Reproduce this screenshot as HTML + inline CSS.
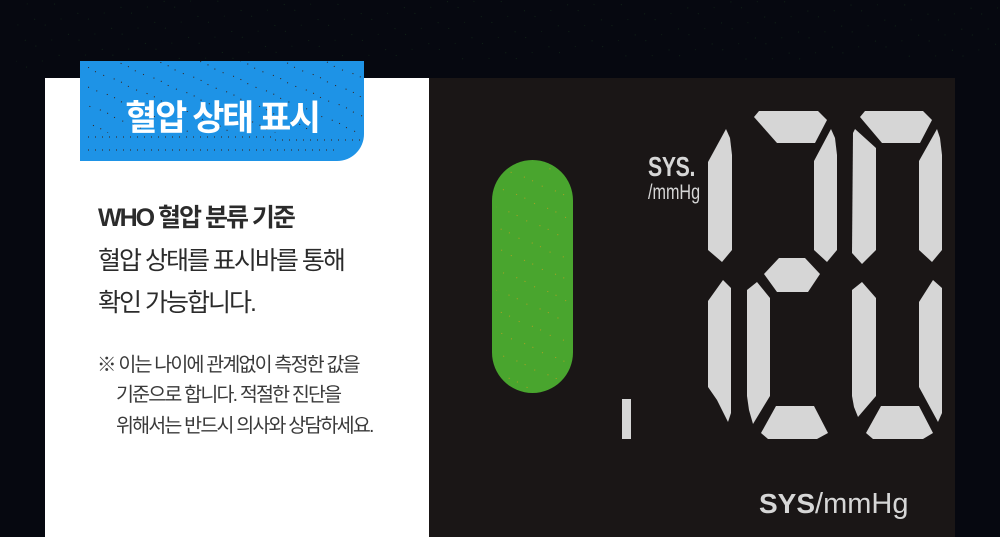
<!DOCTYPE html>
<html lang="ko"><head><meta charset="utf-8"><style>
html,body{margin:0;padding:0}
body{width:1000px;height:537px;overflow:hidden;background:#060810;position:relative;font-family:"Liberation Sans","Noto Sans CJK KR",sans-serif}
div{position:absolute;white-space:nowrap}
.w{left:45px;top:78px;width:384px;height:459px;background:#fff}
.d{left:429px;top:78px;width:526px;height:459px;background:#1a1616}
.b{left:80px;top:61px;width:284px;height:100px;background:#1e93e6;border-bottom-right-radius:27px}
.g{left:492px;top:160px;width:81px;height:233px;border-radius:40.5px;background:#49a52e}
.t{color:#2b2b2b}
.s{font-size:19.5px;line-height:26px;letter-spacing:-1.8px;color:#3a3a3a}
.m{font-size:25px;line-height:32px;letter-spacing:-2px}
</style></head><body>
<svg style="position:absolute;left:0;top:0" width="1000" height="78" fill="none">
<defs><pattern id="n" width="37" height="23" patternUnits="userSpaceOnUse" patternTransform="rotate(24)"><rect x="2" y="3" width="1" height="1" fill="#1f4a22"/><rect x="14" y="4" width="1" height="1" fill="#1f4a22"/><rect x="26" y="15" width="1" height="1" fill="#173a1c"/></pattern></defs>
<rect x="16" width="984" height="60" fill="url(#n)" opacity=".4"/>
<rect x="16" y="60" width="29" height="18" fill="url(#n)" opacity=".4"/>
</svg>
<div class="w"></div><div class="d"></div>
<div class="b"></div>
<svg style="position:absolute;left:80px;top:61px" width="284" height="100" fill="none">
<defs>
<pattern id="p" width="36" height="17" patternUnits="userSpaceOnUse" patternTransform="rotate(24)"><rect x="2" y="2" width="1" height="1" fill="#3a1d0f"/><rect x="10" y="2" width="1" height="1" fill="#3a1d0f"/><rect x="18" y="3" width="1" height="1" fill="#3a1d0f"/><rect x="27" y="3" width="1" height="1" fill="#3a1d0f"/></pattern>
</defs>
<rect x="7" y="0" width="277" height="72" fill="url(#p)"/>
<path d="M8 76H195M195 79H284M8 89H175L190 89H260" stroke="#3a1d0f" stroke-width="1" stroke-dasharray="1 6"/>
</svg>
<div style="left:80px;top:63px;width:284px;height:100px;line-height:112px;text-align:center;color:#fff;font-size:35px;font-weight:700;letter-spacing:-2.4px">혈압 상태 표시</div>
<div class="t m" style="left:98px;top:202px;font-weight:700">WHO 혈압 분류 기준</div>
<div class="t m" style="left:98px;top:245px">혈압 상태를 표시바를 통해</div>
<div class="t m" style="left:98px;top:287px">확인 가능합니다.</div>
<div class="s" style="left:97px;top:352px">※ 이는 나이에 관계없이 측정한 값을</div>
<div class="s" style="left:116px;top:382px">기준으로 합니다. 적절한 진단을</div>
<div class="s" style="left:116px;top:413px">위해서는 반드시 의사와 상담하세요.</div>
<div class="g"></div>
<svg style="position:absolute;left:492px;top:160px" width="81" height="233">
<defs><pattern id="o" width="34" height="19" patternUnits="userSpaceOnUse" patternTransform="rotate(24)"><rect x="2" y="2" width="1" height="1" fill="#c9a01e"/><rect x="11" y="2" width="1" height="1" fill="#c9a01e"/><rect x="22" y="3" width="1" height="1" fill="#c9a01e"/></pattern></defs>
<rect x="4" y="4" width="73" height="225" rx="36" fill="url(#o)" opacity=".8"/>
</svg>
<div style="left:622px;top:399px;width:9px;height:40px;background:#d6d6d6"></div>
<div style="left:648px;top:151px;font-size:28px;line-height:32px;font-weight:700;color:#d6d6d6;letter-spacing:-.5px;transform:scaleX(.76);transform-origin:0 0">SYS.</div>
<div style="left:648px;top:180px;font-size:21px;line-height:26px;color:#d6d6d6;transform:scaleX(.77);transform-origin:0 0">/mmHg</div>
<div style="left:759px;top:486px;font-size:29px;line-height:36px;color:#d6d6d6"><b style="font-size:28px">SYS</b><span>/mmHg</span></div>
<svg style="position:absolute;left:0;top:0" width="1000" height="537" fill="#d6d6d6">
<polygon points="754,117 759,111 818,111 827,120 815,143 777,143"/>
<polygon points="708,162 726,129 730,138 732,155 732,250 722,262 708,250"/>
<polygon points="814,161 831,129 835,138 837,155 837,250 827,262 814,250"/>
<polygon points="860,117 865,111 923,111 932,120 920,143 882,143"/>
<polygon points="853,133 855,129 876,148 876,250 862,264 852,253"/>
<polygon points="919,161 937,129 940,138 942,155 942,250 932,262 919,250"/>
<polygon points="764,274 779,258 805,258 820,274 808,292 777,292"/>
<polygon points="708,301 723,280 731,288 731,413 728,422 717,400 708,387"/>
<polygon points="747,290 757,282 770,298 770,396 753,424 749,410 747,396"/>
<polygon points="761,433 776,406 814,406 828,433 817,439 768,439"/>
<polygon points="852,290 862,282 876,298 876,396 858,417 854,407 852,396"/>
<polygon points="919,302 933,280 942,288 942,413 938,422 919,387"/>
<polygon points="866,433 881,406 919,406 933,433 923,439 873,439"/>
</svg>
</body></html>
